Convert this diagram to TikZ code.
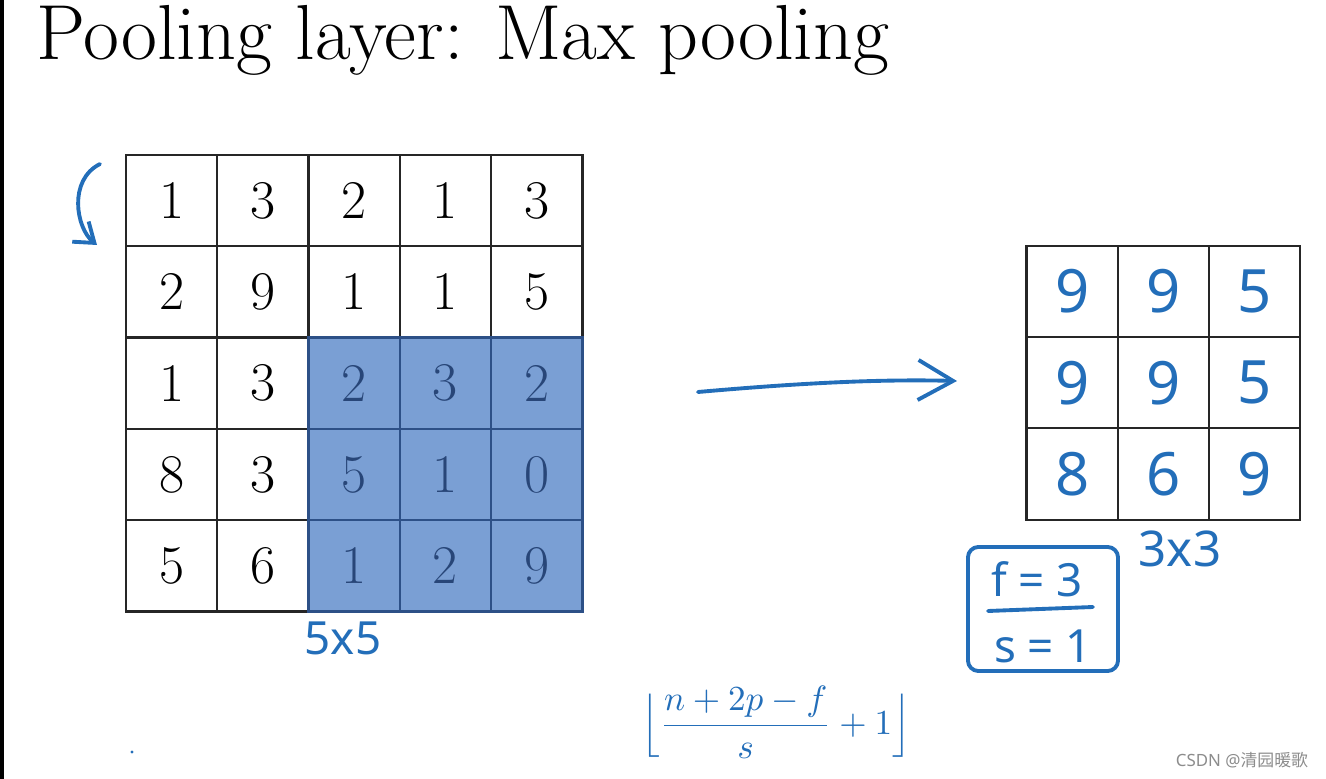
\documentclass[tikz,border=0pt]{standalone}
\usepackage{fontspec}
\usepackage{amsmath}
\usetikzlibrary{arrows.meta}
\newfontfamily\hand{Noto Sans}
\newfontfamily\cjk{Noto Sans CJK SC}
\definecolor{ink}{RGB}{35,110,185}
\definecolor{shade}{RGB}{122,159,212}
\definecolor{shadeline}{RGB}{45,80,135}
\definecolor{shadetext}{RGB}{40,70,120}

\begin{document}
\begin{tikzpicture}[x=0.01cm,y=-0.01cm,
  cell/.style={draw=black!85,line width=0.6pt,minimum size=0.913cm,inner sep=0pt,
    font=\fontsize{15.5}{18}\selectfont},
  hot/.style={cell,fill=shade,draw=shadeline,text=shadetext},
  outcell/.style={draw=black!85,line width=0.6pt,minimum size=0.912cm,inner sep=0pt,
    text=ink,font=\hand\fontsize{17}{19}\selectfont},
  scribble/.style={ink,line width=1.1pt,line cap=round,line join=round}]
 \useasboundingbox (0,0) rectangle (1326,779);
 \fill [black] (0,0) rectangle (4,779);
 \node (T) [anchor=base west,inner sep=0pt] at (36,60) {\fontsize{22.2}{26}\selectfont Pooling layer: Max pooling};
 % input 5x5
 \node (X11) [cell] at (171.6,200.6) {1};
 \node (X12) [cell] at (262.9,200.6) {3};
 \node (X13) [cell] at (354.2,200.6) {2};
 \node (X14) [cell] at (445.5,200.6) {1};
 \node (X15) [cell] at (536.8,200.6) {3};
 \node (X21) [cell] at (171.6,291.9) {2};
 \node (X22) [cell] at (262.9,291.9) {9};
 \node (X23) [cell] at (354.2,291.9) {1};
 \node (X24) [cell] at (445.5,291.9) {1};
 \node (X25) [cell] at (536.8,291.9) {5};
 \node (X31) [cell] at (171.6,383.2) {1};
 \node (X32) [cell] at (262.9,383.2) {3};
 \node (X41) [cell] at (171.6,474.5) {8};
 \node (X42) [cell] at (262.9,474.5) {3};
 \node (X51) [cell] at (171.6,565.8) {5};
 \node (X52) [cell] at (262.9,565.8) {6};
 \node (X33) [hot] at (354.2,383.2) {2};
 \node (X34) [hot] at (445.5,383.2) {3};
 \node (X35) [hot] at (536.8,383.2) {2};
 \node (X43) [hot] at (354.2,474.5) {5};
 \node (X44) [hot] at (445.5,474.5) {1};
 \node (X45) [hot] at (536.8,474.5) {0};
 \node (X53) [hot] at (354.2,565.8) {1};
 \node (X54) [hot] at (445.5,565.8) {2};
 \node (X55) [hot] at (536.8,565.8) {9};
 % output 3x3
 \node (Y11) [outcell] at (1072.1,291.6) {9};
 \node (Y12) [outcell] at (1163.3,291.6) {9};
 \node (Y13) [outcell] at (1254.5,291.6) {5};
 \node (Y21) [outcell] at (1072.1,382.8) {9};
 \node (Y22) [outcell] at (1163.3,382.8) {9};
 \node (Y23) [outcell] at (1254.5,382.8) {5};
 \node (Y31) [outcell] at (1072.1,474.0) {8};
 \node (Y32) [outcell] at (1163.3,474.0) {6};
 \node (Y33) [outcell] at (1254.5,474.0) {9};
 % pen notes
 \node (D1) [ink,font=\hand\fontsize{13}{15}\selectfont] at (343,638) {5x5};
 \node (D2) [ink,font=\hand\fontsize{14}{16}\selectfont] at (1180,549) {3x3};
 \node (F1) [ink,font=\hand\fontsize{13}{15}\selectfont] at (1037,579) {f = 3};
 \node (F2) [ink,font=\hand\fontsize{13}{15}\selectfont] at (1043,646) {s = 1};
 \node (B) [scribble,draw,rounded corners=3pt,minimum width=1.5cm,minimum height=1.24cm] at (1043,609) {};
 \coordinate (L1) at (988,611);
 \coordinate (L2) at (1093,607);
 \draw [scribble] (L1) -- (L2);
 \node (FM) [ink,font=\fontsize{10}{12}\selectfont] at (776,722)
   {$\Bigl\lfloor \dfrac{n+2p-f}{s}+1 \Bigr\rfloor$};
 \coordinate (A1) at (698,392);
 \coordinate (A2) at (957,381);
 \draw [scribble,-{Straight Barb[length=0.35cm,width=0.4cm]}] (A1) .. controls (800,383) and (880,379) .. (A2);
 \coordinate (C1) at (100,164);
 \coordinate (C2) at (97,245);
 \draw [scribble,-{Straight Barb[length=0.18cm,width=0.26cm]}] (C1) .. controls (68,180) and (76,228) .. (C2);
 \fill [ink] (132,752) circle (1.6);
 \node (W) [black!45,font=\hand\fontsize{4.8}{6}\selectfont] at (1242,760) {CSDN @\cjk 清园暖歌};
\end{tikzpicture}
\end{document}
